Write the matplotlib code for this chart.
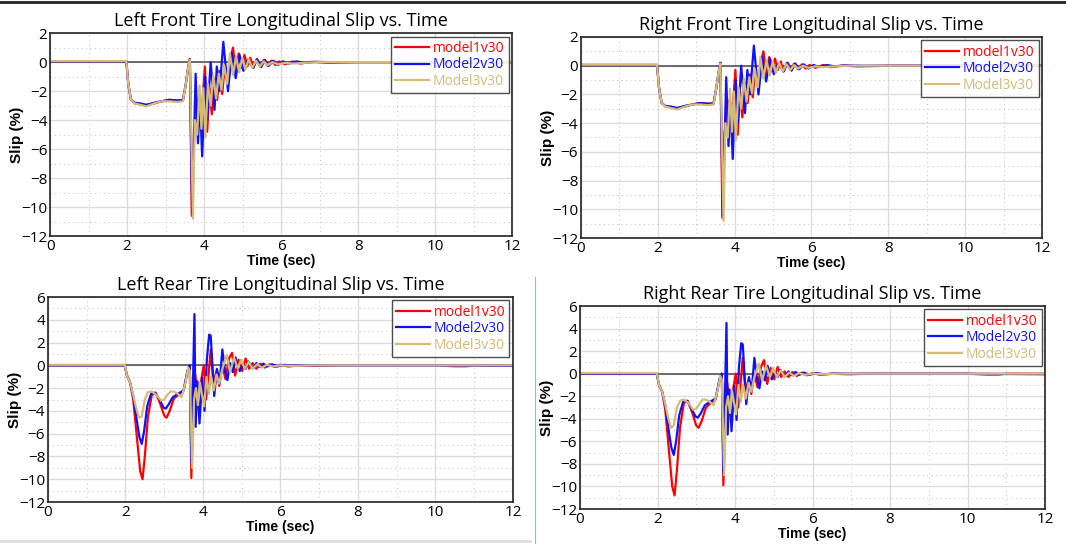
import matplotlib
matplotlib.use("Agg")
import matplotlib.pyplot as plt
from matplotlib.lines import Line2D

# ---- datos (tiempo en s, deslizamiento en %) ----

# neumaticos delanteros (izq. y der. practicamente iguales)
front_t_m1 = [0, 1.98, 2.03, 2.1, 2.2, 2.35, 2.5, 2.7, 2.9, 3.1,
              3.3, 3.45, 3.52, 3.58, 3.63, 3.68, 3.74, 3.80, 3.86, 3.92,
              3.97, 4.02, 4.08, 4.14, 4.20, 4.27, 4.34, 4.40, 4.47, 4.54,
              4.61, 4.68, 4.75, 4.82, 4.90, 4.97, 5.05, 5.12, 5.20, 5.28,
              5.36, 5.45, 5.55, 5.65, 5.75, 5.85, 5.95, 6.1, 6.3, 6.5,
              6.8, 7.2, 8, 9, 10, 11, 12]
front_m1 = [0.05, 0.05, -1.5, -2.6, -2.85, -2.9, -2.95, -2.85, -2.7, -2.6,
            -2.65, -2.6, -1.6, -0.5, 0.2, -10.6, -4.6, -3.8, -2.4, -4.4,
            -2.2, -0.3, -4.8, -1.8, -3.6, -1.2, -2.6, -0.6, -2.2, -0.2,
            -1.4, 0.3, 1.0, -0.6, 0.6, -0.4, 0.5, -0.3, 0.3, -0.4,
            0.2, -0.3, 0.15, -0.25, 0.1, -0.2, 0.05, -0.15, 0.05, -0.1,
            0.02, -0.05, 0.0, 0.0, 0.0, 0.0, 0.0]

front_t_m2 = [0, 1.98, 2.03, 2.1, 2.2, 2.35, 2.5, 2.7, 2.9, 3.1,
              3.3, 3.45, 3.52, 3.58, 3.63, 3.69, 3.78, 3.84, 3.89, 3.95,
              4.03, 4.08, 4.17, 4.27, 4.33, 4.40, 4.50, 4.62, 4.72, 4.82,
              4.92, 5.02, 5.14, 5.27, 5.38, 5.48, 5.58, 5.68, 5.80, 5.92,
              6.05, 6.2, 6.4, 6.6, 6.9, 7.3, 8, 9, 10, 11, 12]
front_m2 = [0.05, 0.05, -1.5, -2.6, -2.8, -2.85, -2.95, -2.8, -2.7, -2.6,
            -2.65, -2.65, -1.6, -0.5, 0.2, -10.4, -0.8, -5.6, -2.6, -6.5,
            -1.0, -4.0, 0.0, -3.3, -0.3, -2.0, 1.4, -2.0, 0.6, -1.1,
            0.5, -0.6, 0.15, -0.4, 0.2, -0.35, 0.15, -0.25, 0.1, -0.2,
            0.05, -0.1, 0.05, -0.05, 0.02, 0, 0, 0, 0, 0, 0]

front_t_m3 = [0, 1.98, 2.03, 2.1, 2.2, 2.35, 2.5, 2.7, 2.9, 3.1,
              3.3, 3.45, 3.52, 3.58, 3.63, 3.71, 3.76, 3.82, 3.88, 3.93,
              3.98, 4.03, 4.10, 4.17, 4.24, 4.31, 4.38, 4.45, 4.52, 4.60,
              4.67, 4.75, 4.83, 4.91, 4.99, 5.07, 5.16, 5.25, 5.35, 5.45,
              5.55, 5.65, 5.78, 5.92, 6.1, 6.3, 6.6, 7.0, 8, 9, 10, 11, 12]
front_m3 = [0.07, 0.07, -1.5, -2.6, -2.85, -2.95, -3.05, -2.85, -2.7, -2.7,
            -2.75, -2.7, -1.6, -0.5, 0.15, -10.8, -4.0, -5.0, -1.6, -4.6,
            -1.8, -5.2, -1.5, -3.0, -0.9, -2.5, -0.8, -1.9, -0.2, -1.5,
            0.6, -0.9, 0.4, -0.7, 0.3, -0.5, 0.2, -0.4, 0.1, -0.3,
            0.05, -0.2, 0.0, -0.15, -0.05, -0.1, -0.05, 0.0, 0, 0, 0, 0, 0]

# neumaticos traseros
rear_t_m1 = [0, 1.98, 2.04, 2.12, 2.2, 2.3, 2.38, 2.44, 2.50, 2.58,
             2.68, 2.78, 2.9, 3.0, 3.06, 3.14, 3.25, 3.4, 3.5, 3.6,
             3.66, 3.70, 3.75, 3.80, 3.86, 3.92, 3.97, 4.02, 4.08, 4.14,
             4.20, 4.27, 4.35, 4.42, 4.50, 4.58, 4.67, 4.75, 4.83, 4.92,
             5.01, 5.10, 5.19, 5.28, 5.38, 5.48, 5.6, 5.72, 5.85, 6.0,
             6.2, 6.5, 6.9, 7.5, 8.5, 10.0, 10.5, 10.8, 11.0, 12]
rear_left_m1 = [0.0, 0.0, -0.9, -1.5, -3.0, -6.5, -9.3, -10.0, -8.0, -4.5,
                -2.6, -2.4, -3.4, -4.4, -4.6, -4.0, -2.9, -2.5, -2.2, -0.5,
                0.0, -9.9, -3.0, -0.8, -2.5, -2.1, -1.0, 0.0, -3.0, -1.0,
                1.4, -1.5, -0.5, -1.8, 0.0, -1.2, 0.6, 1.1, -0.9, 0.5,
                -0.5, 0.6, -0.3, 0.2, -0.3, 0.15, -0.2, 0.1, -0.15, 0.05,
                -0.1, 0.0, -0.05, 0.0, 0.0, 0.0, -0.08, -0.08, 0.0, 0.0]
rear_right_m1 = [0.0, 0.0, -1.0, -1.6, -3.2, -7.0, -10.0, -10.8, -8.6, -4.8,
                 -2.6, -2.4, -3.5, -4.6, -4.8, -4.2, -3.0, -2.5, -2.3, -0.5,
                 0.0, -9.9, -3.0, -0.8, -2.5, -2.1, -1.0, 0.0, -3.0, -1.0,
                 1.4, -1.5, -0.5, -1.8, 0.0, -1.2, 0.6, 1.2, -0.9, 0.5,
                 -0.5, 0.6, -0.3, 0.2, -0.3, 0.15, -0.2, 0.1, -0.15, 0.05,
                 -0.1, 0.0, -0.05, 0.0, 0.0, 0.0, -0.08, -0.08, 0.0, 0.0]

rear_t_m2 = [0, 1.98, 2.04, 2.12, 2.2, 2.3, 2.36, 2.42, 2.48, 2.56,
             2.66, 2.76, 2.88, 2.98, 3.04, 3.12, 3.22, 3.4, 3.5, 3.6,
             3.66, 3.70, 3.78, 3.81, 3.86, 3.91, 3.98, 4.04, 4.10, 4.16,
             4.20, 4.29, 4.36, 4.43, 4.50, 4.57, 4.63, 4.70, 4.77, 4.84,
             4.90, 4.95, 5.03, 5.10, 5.17, 5.24, 5.30, 5.38, 5.47, 5.56,
             5.66, 5.78, 5.92, 6.1, 6.3, 6.6, 7.0, 8, 10, 12]
rear_left_m2 = [0.0, 0.0, -0.9, -1.5, -2.7, -5.0, -6.3, -6.9, -5.8, -3.6,
                -2.5, -2.4, -3.0, -3.7, -3.8, -3.4, -2.8, -2.4, -2.2, -0.5,
                0.0, -8.5, 4.5, -5.4, -1.4, -5.1, -1.1, -4.0, 0.5, 2.7,
                2.6, -2.7, -0.3, -1.5, 1.4, -0.5, -1.3, 0.2, -0.6, 0.7,
                -0.1, -0.5, 0.1, -0.3, 0.35, -0.1, -0.25, 0.2, -0.15, 0.15,
                -0.1, 0.1, -0.1, 0.05, -0.05, 0.02, 0.0, 0.0, 0.0, -0.05]
rear_right_m2 = [0.0, 0.0, -1.0, -1.6, -2.8, -5.3, -6.6, -7.2, -6.0, -3.7,
                 -2.5, -2.4, -3.1, -3.8, -3.9, -3.5, -2.8, -2.4, -2.2, -0.5,
                 0.0, -8.8, 4.5, -5.4, -1.4, -5.1, -1.1, -4.1, 0.5, 2.7,
                 2.6, -2.7, -0.3, -1.5, 1.4, -0.5, -1.3, 0.2, -0.6, 0.7,
                 -0.1, -0.5, 0.1, -0.3, 0.35, -0.1, -0.25, 0.2, -0.15, 0.15,
                 -0.1, 0.1, -0.1, 0.05, -0.05, 0.02, 0.0, 0.0, 0.0, -0.05]

rear_t_m3 = [0, 1.98, 2.04, 2.12, 2.2, 2.28, 2.35, 2.42, 2.5, 2.58,
             2.68, 2.8, 2.92, 3.0, 3.08, 3.16, 3.25, 3.35, 3.45, 3.55,
             3.62, 3.66, 3.72, 3.77, 3.82, 3.87, 3.92, 3.97, 4.03, 4.09,
             4.15, 4.21, 4.28, 4.35, 4.42, 4.50, 4.61, 4.70, 4.80, 4.90,
             4.98, 5.08, 5.18, 5.28, 5.40, 5.52, 5.65, 5.8, 6.0, 6.3,
             6.7, 7.5, 9, 12]
rear_left_m3 = [0.05, 0.05, -0.9, -1.5, -2.6, -3.8, -4.6, -4.5, -3.0, -2.35,
                -2.3, -2.6, -3.1, -3.0, -2.6, -2.3, -2.3, -2.5, -2.8, -1.5,
                -0.2, -0.5, -9.0, -3.0, -2.0, -3.5, -1.5, -2.5, -3.6, -1.0,
                -2.5, -1.0, -2.2, -0.8, -1.6, -0.3, 0.9, -0.6, 0.7, -0.3,
                0.5, -0.3, 0.3, -0.3, 0.1, -0.2, 0.05, -0.1, 0.0, -0.05,
                0.0, 0.0, 0.0, 0.0]
rear_right_m3 = [0.05, 0.05, -1.0, -1.6, -2.7, -4.0, -4.8, -4.6, -3.0, -2.4,
                 -2.3, -2.6, -3.2, -3.1, -2.7, -2.3, -2.3, -2.5, -2.8, -1.5,
                 -0.2, -0.5, -9.0, -3.0, -2.0, -3.5, -1.5, -2.5, -3.6, -1.0,
                 -2.5, -1.0, -2.2, -0.8, -1.6, -0.3, 0.9, -0.6, 0.7, -0.3,
                 0.5, -0.3, 0.3, -0.3, 0.1, -0.2, 0.05, -0.1, 0.0, -0.05,
                 0.0, 0.0, 0.0, 0.0]

labels = ["model1v30", "Model2v30", "Model3v30"]
colores = ["#ff0000", "#1010ff", "#d4bb78"]

paneles = [
    ("Left Front Tire Longitudinal Slip vs. Time",
     [0.047, 0.566, 0.4334, 0.3731], (-12, 2),
     [(front_t_m1, front_m1), (front_t_m2, front_m2), (front_t_m3, front_m3)]),
    ("Right Front Tire Longitudinal Slip vs. Time",
     [0.545, 0.5625, 0.4325, 0.3695], (-12, 2),
     [(front_t_m1, front_m1), (front_t_m2, front_m2), (front_t_m3, front_m3)]),
    ("Left Rear Tire Longitudinal Slip vs. Time",
     [0.045, 0.0772, 0.4362, 0.3768], (-12, 6),
     [(rear_t_m1, rear_left_m1), (rear_t_m2, rear_left_m2), (rear_t_m3, rear_left_m3)]),
    ("Right Rear Tire Longitudinal Slip vs. Time",
     [0.5441, 0.0643, 0.4362, 0.3732], (-12, 6),
     [(rear_t_m1, rear_right_m1), (rear_t_m2, rear_right_m2), (rear_t_m3, rear_right_m3)]),
]

fig = plt.figure(figsize=(10.66, 5.44), dpi=100)

for titulo, pos, ylim, series in paneles:
    ax = fig.add_axes(pos)

    # cuadricula mayor (solida) y menor (punteada)
    ax.set_xticks(range(0, 13, 2))
    ax.set_xticks(range(1, 13, 2), minor=True)
    ax.set_yticks(range(ylim[0], ylim[1] + 1, 2))
    ax.set_yticks(range(ylim[0] + 1, ylim[1], 2), minor=True)
    ax.grid(True, which="major", color="#dcdcdc", linewidth=1.0)
    ax.grid(True, which="minor", color="#c8c8c8", linestyle=(0, (1, 3)), linewidth=0.8)
    ax.set_axisbelow(True)

    ax.axhline(0, color="#555555", linewidth=1.2, zorder=1)

    for (t, v), lab, col in zip(series, labels, colores):
        ax.plot(t, v, color=col, linewidth=1.6, label=lab)

    ax.set_xlim(0, 12)
    ax.set_ylim(*ylim)

    ax.tick_params(which="both", length=0, pad=2, labelsize=11)
    for lbl in ax.get_xticklabels() + ax.get_yticklabels():
        lbl.set_fontfamily("Open Sans")
    for sp in ax.spines.values():
        sp.set_color("#222222")
        sp.set_linewidth(1.2)

    ax.set_title(titulo, fontsize=13, family="Open Sans", pad=5)
    ax.set_xlabel("Time (sec)", fontsize=10, fontweight="bold",
                  family="Liberation Sans", labelpad=0)
    ax.set_ylabel("Slip (%)", fontsize=11, fontweight="bold",
                  family="Liberation Sans")
    # etiqueta Y cerca de los numeros del eje
    ancho_px = pos[2] * 1066
    ax.yaxis.set_label_coords(-26 / ancho_px, 0.5)

    leg = ax.legend(loc="upper right", frameon=True, fancybox=False,
                    borderaxespad=0.25, handlelength=2.4, handletextpad=0.3,
                    labelspacing=0.12, borderpad=0.3,
                    prop={"family": "Open Sans", "size": 10})
    leg.get_frame().set_edgecolor("#222222")
    leg.get_frame().set_linewidth(1.0)
    for txt, col in zip(leg.get_texts(), colores):
        txt.set_color(col)

# bordes de la captura de pantalla
fig.add_artist(Line2D([0, 1], [0.996, 0.996], color="#222222", linewidth=2))
fig.add_artist(Line2D([0.502, 0.502], [0.0, 0.49], color="#40e0f0", linewidth=0.8))
fig.add_artist(Line2D([0, 0.497], [0.005, 0.005], color="#dddddd", linewidth=2))

plt.savefig("out.png", dpi=100)
plt.close()
